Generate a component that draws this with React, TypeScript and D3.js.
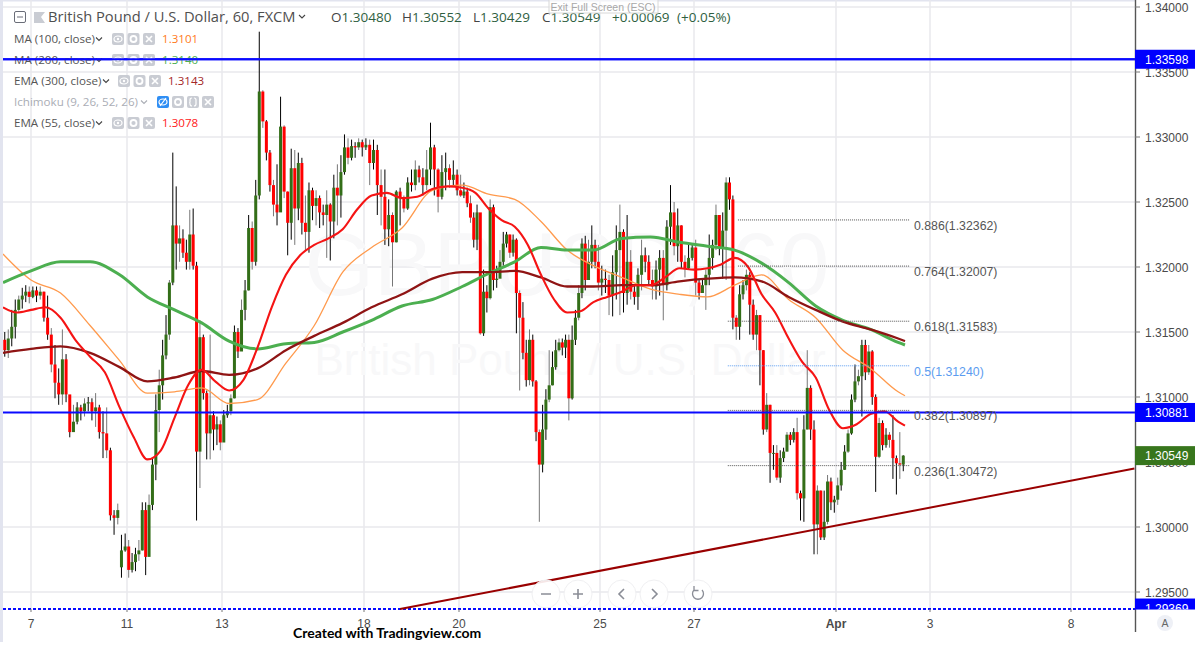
import React from "react";
import * as d3 from "d3";

type Bar = [number, number, number]; // close, high, low

// ---- hourly candles, one list per stretch between two date labels ----
const beforeMar7: Bar[] = [
  [1.3136,1.3150,1.3131],[1.3145,1.3152,1.3130],[1.3154,1.3167,1.3139],[1.3167,1.3175,1.3145],
  [1.3175,1.3178,1.3165],[1.3178,1.3184,1.3168],[1.3181,1.3186,1.3173],[1.3177,1.3185,1.3172],
];
const mar7to11: Bar[] = [
  [1.3182,1.3185,1.3176],[1.3178,1.3185,1.3173],[1.3181,1.3185,1.3175],[1.3161,1.3181,1.3158],
  [1.3148,1.3178,1.3144],[1.3125,1.3153,1.3119],[1.3111,1.3140,1.3099],[1.3102,1.3122,1.3094],
  [1.3129,1.3152,1.3094],[1.3102,1.3133,1.3096],[1.3073,1.3099,1.3069],[1.3081,1.3094,1.3076],
  [1.3092,1.3096,1.3079],[1.3089,1.3094,1.3082],[1.3095,1.3099,1.3085],[1.3096,1.3100,1.3089],
  [1.3089,1.3099,1.3082],[1.3092,1.3103,1.3077],[1.3073,1.3094,1.3068],[1.3072,1.3089,1.3053],
  [1.3059,1.3092,1.3053],[1.3009,1.3061,1.3005],[1.3007,1.3013,1.2994],[1.3013,1.3018,1.3002],
  [1.2982,1.2994,1.2961],[1.2985,1.2995,1.2981],
];
const mar11to13: Bar[] = [
  [1.2967,1.2990,1.2961],[1.2973,1.2980,1.2965],[1.2979,1.2984,1.2966],[1.2982,1.2990,1.2974],
  [1.3013,1.3019,1.2982],[1.2977,1.3019,1.2963],[1.3017,1.3025,1.2984],[1.3048,1.3053,1.3013],
  [1.3090,1.3102,1.3036],[1.3109,1.3121,1.3073],[1.3132,1.3144,1.3098],[1.3148,1.3163,1.3129],
  [1.3188,1.3190,1.3144],[1.3232,1.3288,1.3186],[1.3218,1.3262,1.3198],[1.3222,1.3232,1.3204],
  [1.3211,1.3229,1.3207],[1.3204,1.3221,1.3198],[1.3225,1.3244,1.3198],[1.3201,1.3245,1.3198],
  [1.3058,1.3204,1.3005],[1.3146,1.3159,1.3030],[1.3103,1.3148,1.3098],[1.3072,1.3105,1.3052],
  [1.3086,1.3148,1.3052],[1.3075,1.3089,1.3059],[1.3079,1.3085,1.3063],[1.3065,1.3082,1.3059],
];
const mar13to18: Bar[] = [
  [1.3086,1.3090,1.3070],[1.3089,1.3094,1.3084],[1.3099,1.3102,1.3086],[1.3150,1.3155,1.3099],
  [1.3135,1.3153,1.3130],[1.3167,1.3175,1.3144],[1.3182,1.3190,1.3159],[1.3230,1.3240,1.3182],
  [1.3204,1.3235,1.3198],[1.3255,1.3267,1.3201],[1.3335,1.3381,1.3252],[1.3312,1.3336,1.3307],
  [1.3288,1.3313,1.3282],[1.3263,1.3290,1.3258],[1.3248,1.3267,1.3239],[1.3242,1.3279,1.3232],
  [1.3308,1.3331,1.3255],[1.3258,1.3309,1.3253],[1.3234,1.3258,1.3209],[1.3276,1.3291,1.3221],
  [1.3245,1.3290,1.3217],[1.3280,1.3288,1.3236],[1.3234,1.3284,1.3225],[1.3227,1.3255,1.3213],
  [1.3259,1.3265,1.3211],[1.3247,1.3261,1.3236],[1.3253,1.3259,1.3232],[1.3242,1.3255,1.3230],
  [1.3240,1.3248,1.3232],[1.3248,1.3259,1.3207],[1.3235,1.3249,1.3205],[1.3261,1.3271,1.3222],
  [1.3255,1.3279,1.3232],[1.3273,1.3286,1.3238],[1.3292,1.3302,1.3271],[1.3284,1.3299,1.3279],
  [1.3293,1.3298,1.3282],[1.3292,1.3296,1.3284],[1.3296,1.3299,1.3290],[1.3292,1.3298,1.3285],
];
const mar18to20: Bar[] = [
  [1.3294,1.3299,1.3290],[1.3280,1.3298,1.3263],[1.3290,1.3298,1.3275],[1.3263,1.3294,1.3240],
  [1.3254,1.3275,1.3232],[1.3229,1.3275,1.3217],[1.3240,1.3252,1.3216],[1.3219,1.3242,1.3185],
  [1.3258,1.3259,1.3219],[1.3253,1.3261,1.3232],[1.3245,1.3255,1.3242],[1.3265,1.3269,1.3244],
  [1.3263,1.3275,1.3258],[1.3275,1.3282,1.3259],[1.3269,1.3278,1.3265],[1.3263,1.3276,1.3255],
  [1.3275,1.3290,1.3259],[1.3292,1.3311,1.3263],[1.3275,1.3294,1.3255],[1.3254,1.3276,1.3242],
  [1.3273,1.3286,1.3252],[1.3276,1.3288,1.3259],[1.3267,1.3279,1.3261],[1.3271,1.3282,1.3263],
  [1.3259,1.3275,1.3255],
];
const mar20to25: Bar[] = [
  [1.3255,1.3271,1.3254],[1.3258,1.3265,1.3253],[1.3249,1.3261,1.3246],[1.3238,1.3255,1.3234],
  [1.3221,1.3242,1.3215],[1.3242,1.3248,1.3213],[1.3149,1.3221,1.3148],[1.3181,1.3198,1.3147],
  [1.3176,1.3186,1.3165],[1.3246,1.3252,1.3175],[1.3190,1.3248,1.3182],[1.3191,1.3201,1.3184],
  [1.3204,1.3213,1.3192],[1.3218,1.3227,1.3201],[1.3225,1.3227,1.3215],[1.3211,1.3225,1.3207],
  [1.3221,1.3225,1.3208],[1.3180,1.3222,1.3149],[1.3161,1.3182,1.3105],[1.3134,1.3173,1.3129],
  [1.3113,1.3144,1.3108],[1.3144,1.3152,1.3109],[1.3112,1.3148,1.3108],[1.3073,1.3113,1.3066],
  [1.3048,1.3075,1.3004],[1.3075,1.3094,1.3042],[1.3098,1.3106,1.3067],[1.3109,1.3136,1.3096],
  [1.3123,1.3135,1.3109],[1.3136,1.3144,1.3121],[1.3142,1.3145,1.3135],[1.3138,1.3145,1.3132],
  [1.3144,1.3148,1.3130],[1.3099,1.3148,1.3082],[1.3144,1.3155,1.3098],[1.3161,1.3167,1.3140],
  [1.3180,1.3186,1.3159],[1.3218,1.3222,1.3176],[1.3190,1.3224,1.3182],[1.3204,1.3221,1.3198],
  [1.3217,1.3232,1.3199],[1.3204,1.3221,1.3199],[1.3188,1.3217,1.3182],
];
const mar25to27: Bar[] = [
  [1.3191,1.3201,1.3178],[1.3190,1.3198,1.3180],[1.3178,1.3194,1.3163],[1.3196,1.3209,1.3162],
  [1.3213,1.3232,1.3175],[1.3227,1.3248,1.3163],[1.3180,1.3229,1.3165],[1.3204,1.3240,1.3171],
  [1.3181,1.3213,1.3175],[1.3177,1.3186,1.3171],[1.3194,1.3199,1.3167],[1.3209,1.3221,1.3182],
  [1.3204,1.3215,1.3196],[1.3190,1.3209,1.3186],[1.3185,1.3198,1.3175],[1.3198,1.3205,1.3175],
  [1.3207,1.3213,1.3178],[1.3186,1.3213,1.3159],[1.3231,1.3236,1.3182],[1.3242,1.3263,1.3217],
  [1.3216,1.3250,1.3209],[1.3232,1.3245,1.3204],[1.3204,1.3232,1.3199],[1.3199,1.3209,1.3192],
  [1.3207,1.3219,1.3198],[1.3215,1.3217,1.3205],
];
const mar27toApr: Bar[] = [
  [1.3188,1.3221,1.3178],[1.3180,1.3190,1.3175],[1.3186,1.3191,1.3180],[1.3194,1.3198,1.3167],
  [1.3207,1.3225,1.3186],[1.3217,1.3221,1.3198],[1.3240,1.3248,1.3213],[1.3215,1.3240,1.3209],
  [1.3228,1.3242,1.3191],[1.3265,1.3269,1.3190],[1.3252,1.3269,1.3244],[1.3161,1.3255,1.3152],
  [1.3154,1.3163,1.3144],[1.3179,1.3186,1.3144],[1.3186,1.3190,1.3175],[1.3194,1.3198,1.3182],
  [1.3171,1.3196,1.3148],[1.3148,1.3175,1.3144],[1.3163,1.3167,1.3136],[1.3136,1.3163,1.3109],
  [1.3075,1.3136,1.3071],[1.3094,1.3103,1.3073],[1.3057,1.3094,1.3034],[1.3057,1.3063,1.3044],
  [1.3038,1.3063,1.3036],[1.3053,1.3059,1.3034],[1.3058,1.3061,1.3050],[1.3071,1.3073,1.3058],
  [1.3067,1.3073,1.3063],[1.3073,1.3076,1.3065],[1.3026,1.3084,1.3021],[1.3022,1.3028,1.3005],
  [1.3075,1.3086,1.3004],[1.3107,1.3136,1.3075],[1.3075,1.3109,1.3067],[1.3002,1.3082,1.2979],
  [1.3028,1.3032,1.2979],[1.2992,1.3028,1.2990],[1.3004,1.3028,1.2990],[1.3035,1.3040,1.3002],
  [1.3019,1.3038,1.3013],[1.3021,1.3024,1.3011],
];
const aprOn: Bar[] = [
  [1.3032,1.3038,1.3017],[1.3044,1.3050,1.3028],[1.3058,1.3063,1.3044],[1.3072,1.3075,1.3057],
  [1.3098,1.3102,1.3071],[1.3112,1.3125,1.3096],[1.3116,1.3121,1.3109],[1.3140,1.3144,1.3085],
  [1.3119,1.3144,1.3113],[1.3135,1.3140,1.3117],[1.3100,1.3136,1.3094],[1.3054,1.3102,1.3027],
  [1.3080,1.3084,1.3053],[1.3063,1.3082,1.3059],[1.3071,1.3076,1.3061],[1.3067,1.3073,1.3061],
  [1.3053,1.3086,1.3037],[1.3049,1.3055,1.3025],[1.3048,1.3073,1.3037],[1.30549,1.30552,1.30429],
];
const barSegments = [beforeMar7, mar7to11, mar11to13, mar13to18, mar18to20, mar20to25, mar25to27, mar27toApr, aprOn];
const gapOpens: Record<number, number> = { 0: 1.3144, 32: 1.2969 };

// ---- moving averages, read at regular bar steps ----
const ma100: number[] = [1.3210,1.3190,1.3180,1.3155,1.3128,1.3103,1.3104,1.3107,1.3095,1.3098,1.3126,1.3155,1.3196,1.3215,1.3230,1.3259,1.3263,1.3256,1.3252,1.3235,1.3213,1.3201,1.3192,1.3183,1.3179,1.3177,1.3186,1.3194,1.3175,1.3161,1.3136,1.3122,1.3104,1.3101];
const ma200: number[] = [1.3188,1.3197,1.3204,1.3204,1.3194,1.3177,1.3167,1.3157,1.3143,1.3137,1.3141,1.3142,1.3150,1.3159,1.3170,1.3175,1.3185,1.3195,1.3204,1.3215,1.3213,1.3213,1.3222,1.3223,1.3219,1.3216,1.3213,1.3203,1.3188,1.3170,1.3159,1.3152,1.3142,1.3140];
const ema300: number[] = [1.3134,1.3137,1.3139,1.3134,1.3123,1.3112,1.3115,1.3120,1.3117,1.3122,1.3136,1.3147,1.3157,1.3169,1.3179,1.3191,1.3196,1.3196,1.3197,1.3192,1.3185,1.3185,1.3186,1.3186,1.3189,1.3191,1.3192,1.3189,1.3177,1.3167,1.3158,1.3152,1.3145,1.3143];
const ema55: number[] = [1.3169,1.3165,1.3167,1.3169,1.3161,1.3144,1.3131,1.3119,1.3092,1.3069,1.3052,1.3059,1.3084,1.3109,1.3121,1.3112,1.3105,1.3113,1.3138,1.3169,1.3194,1.3209,1.3217,1.3222,1.3229,1.3244,1.3255,1.3257,1.3253,1.3254,1.3260,1.3262,1.3261,1.3257,1.3245,1.3236,1.3231,1.3217,1.3194,1.3175,1.3165,1.3166,1.3173,1.3177,1.3181,1.3186,1.3186,1.3192,1.3199,1.3198,1.3199,1.3202,1.3207,1.3200,1.3179,1.3165,1.3145,1.3127,1.3115,1.3090,1.3076,1.3079,1.3087,1.3089,1.3081,1.3078];

// ---- levels and labels ----
const priceTicks = [1.295, 1.30, 1.305, 1.31, 1.315, 1.32, 1.325, 1.33, 1.335, 1.34];
const dateLabels = ["7", "11", "13", "18", "20", "25", "27", "Apr", "3", "8"];
const futureBars = [7.2, 48.1];
const hLevels = [1.33598, 1.30881];
const lowLevel = 1.29369;
const fibRatios = ["0.886", "0.764", "0.618", "0.5", "0.382", "0.236"];
const fibPrices = [1.32362, 1.32007, 1.31583, 1.3124, 1.30897, 1.30472];
const fibStartBars = [209, 209, 206, 206, 206, 206];
const trendBars = [111.5, 324.5];
const trendPrices = [1.29369, 1.3045];
const lastPrice = 1.30549;

const legendRows = [
  { name: "MA (100, close)", value: "1.3101", color: "#ff7a1a" },
  { name: "MA (200, close)", value: "1.3140", color: "#4caf50" },
  { name: "EMA (300, close)", value: "1.3143", color: "#a52828" },
  { name: "Ichimoku (9, 26, 52, 26)", value: "", color: "" },
  { name: "EMA (55, close)", value: "1.3078", color: "#ff2020" },
];
const ohlcLabels = ["O", "H", "L", "C"];
const ohlcValues = ["1.30480", "1.30552", "1.30429", "1.30549"];

// ---- scales ----
const W = 1195, H = 649;
const plotR = 1135, plotB = 609, plotL = 3;
const y = d3.scaleLinear().domain([1.30, 1.34]).range([527, 7]);
const cum: number[] = [0];
barSegments.forEach((s) => cum.push(cum[cum.length - 1] + s.length));
const lastBar = cum[cum.length - 1];
const x = d3.scaleLinear()
  .domain([...cum, lastBar + futureBars[0], lastBar + futureBars[1]])
  .range([plotL, 31, 127, 222, 364, 459, 600, 694, 836, 905, 930, 1071]);
const tickBars = [cum[1], cum[2], cum[3], cum[4], cum[5], cum[6], cum[7], cum[8], lastBar + futureBars[0], lastBar + futureBars[1]];

const bars = barSegments.flat();
const candles = bars.map((b, i) => {
  const [c, h, l] = b;
  const o = gapOpens[i] ?? bars[i - 1][0];
  return { i, o, c, h, l };
});

const pathOf = (vals: number[], step: number) =>
  d3.line<number>()
    .x((_, i) => x(Math.min(i * step, lastBar)))
    .y((v) => y(v))
    .curve(d3.curveMonotoneX)(vals) as string;

const SANS = '"Liberation Sans", Arial, sans-serif';
const HEAD = '"Open Sans", "Liberation Sans", sans-serif';
const GRID = "#e9e9ec";
const BLUE = "#0a0aff";

function Icon({ x: ix, y: iy, kind, fill = "#c9ccd3" }: { x: number; y: number; kind: string; fill?: string }) {
  return (
    <g transform={`translate(${ix},${iy})`}>
      <rect x={0} y={-6} width={12} height={12} rx={2} fill={fill} />
      {kind === "eye" && <><ellipse cx={6} cy={0} rx={4} ry={3} fill="none" stroke="#fff" strokeWidth={1.2} /><circle cx={6} cy={0} r={1.2} fill="#fff" /></>}
      {kind === "gear" && <circle cx={6} cy={0} r={3} fill="none" stroke="#fff" strokeWidth={1.8} />}
      {kind === "x" && <path d="M3 -3L9 3M9 -3L3 3" stroke="#fff" strokeWidth={1.6} />}
      {kind === "brace" && <path d="M5 -4Q3 -4 3 -2V0Q3 1 2.5 0V0Q3 1 3 2Q3 4 5 4M7 -4Q9 -4 9 -2V2Q9 4 7 4" fill="none" stroke="#fff" strokeWidth={1.2} />}
      {kind === "hide" && <><ellipse cx={6} cy={0} rx={4} ry={3} fill="none" stroke="#fff" strokeWidth={1.2} /><path d="M3 4L9 -4" stroke="#fff" strokeWidth={1.2} /></>}
    </g>
  );
}
const chevron = (cx: number, cy: number, c = "#444") => (
  <path d={`M${cx - 3} ${cy - 1.5}L${cx} ${cy + 1.5}L${cx + 3} ${cy - 1.5}`} fill="none" stroke={c} strokeWidth={1.1} />
);

export default function App() {
  const legendY = [39, 60, 81, 102, 123];
  const legendText = [14, 14, 14, 14, 14];
  const chevX = [99, 99, 106, 144, 99];
  const iconX = [112, 112, 118, 157, 112];
  const valX = [162, 162, 168, 0, 162];
  const ohlcX = [331, 402, 473, 542];
  return (
    <svg width={W} height={H} viewBox={`0 0 ${W} ${H}`} style={{ position: "fixed", left: 0, top: 0, display: "block", background: "#fff" }}>
      <defs>
        <clipPath id="plot"><rect x={plotL} y={0} width={plotR - plotL} height={plotB + 1} /></clipPath>
      </defs>
      <rect x={0} y={0} width={W} height={H} fill="#fff" />
      {/* page edges */}
      <rect x={0} y={0} width={3} height={642} fill="#e2e4ef" />
      <rect x={0} y={0} width={plotR} height={1.5} fill="#e2e4ef" />

      {/* grid */}
      {priceTicks.map((p) => (
        <line key={p} x1={plotL} x2={plotR} y1={y(p)} y2={y(p)} stroke={GRID} strokeWidth={1.5} />
      ))}
      {tickBars.map((b, i) => (
        <line key={i} x1={x(b)} x2={x(b)} y1={0} y2={plotB} stroke={GRID} strokeWidth={1.5} />
      ))}

      {/* watermark */}
      <text x={567} y={295} textAnchor="middle" fontFamily={SANS} fontSize={89} fill="#f8f8f9">GBPUSD, 60</text>
      <text x={570} y={375} textAnchor="middle" fontFamily={SANS} fontSize={44} fill="#f8f8f9">British Pound / U.S. Dollar</text>

      <g clipPath="url(#plot)">
        {/* candles */}
        {candles.map((d) => {
          const cx = x(d.i + 0.5);
          const top = Math.min(y(d.o), y(d.c));
          const bot = Math.max(y(d.o), y(d.c));
          return (
            <g key={d.i}>
              <line x1={cx} x2={cx} y1={y(d.h)} y2={y(d.l)} stroke={d.i % 3 === 1 ? "#777" : "#000"} strokeWidth={1} />
              <rect x={cx - 1.5} y={top} width={3} height={Math.max(bot - top, 1)} fill={d.c >= d.o ? "#336e18" : "#ff0000"} />
            </g>
          );
        })}
        {/* averages */}
        <path d={pathOf(ma100, 8)} fill="none" stroke="#ff9a4d" strokeWidth={1.3} />
        <path d={pathOf(ma200, 8)} fill="none" stroke="#4caf50" strokeWidth={3} />
        <path d={pathOf(ema300, 8)} fill="none" stroke="#8f1414" strokeWidth={2.3} />
        <path d={pathOf(ema55, 4)} fill="none" stroke="#f51414" strokeWidth={2.1} />

        {/* fibonacci */}
        {fibPrices.map((p, i) => (
          <line key={p} x1={x(fibStartBars[i])} x2={910} y1={y(p)} y2={y(p)}
            stroke={fibRatios[i] === "0.5" ? "#5b9cf0" : "#555"} strokeWidth={1} strokeDasharray="1 1" />
        ))}

        {/* levels */}
        {hLevels.map((p) => (
          <line key={p} x1={plotL} x2={plotR} y1={y(p)} y2={y(p)} stroke={BLUE} strokeWidth={2} />
        ))}
        <line x1={plotL} x2={plotR} y1={y(lowLevel)} y2={y(lowLevel)} stroke={BLUE} strokeWidth={2} strokeDasharray="3 2" />
        <line x1={x(trendBars[0])} x2={x(trendBars[1])} y1={y(trendPrices[0])} y2={y(trendPrices[1])} stroke="#990000" strokeWidth={2} />
      </g>

      {fibPrices.map((p, i) => (
        <text key={p} x={914} y={y(p) + 10} fontFamily={SANS} fontSize={12.3}
          fill={fibRatios[i] === "0.5" ? "#5b9cf0" : "#555"}>{`${fibRatios[i]}(${p.toFixed(5)})`}</text>
      ))}

      {/* header */}
      <rect x={14.5} y={11.5} width={11} height={11} rx={1.5} fill="none" stroke="#6a6d78" strokeWidth={1} />
      <line x1={17} x2={23} y1={17} y2={17} stroke="#6a6d78" strokeWidth={1} />
      <path d="M34 12H45L41 17L45 23H34Z" fill="#c9ccd3" />
      <text x={48} y={22} fontFamily={HEAD} fontSize={14.7} fill="#4f4f4f">British Pound / U.S. Dollar, 60, FXCM</text>
      {chevron(302, 16.5)}
      <g fontFamily={HEAD} fontSize={13.5} fill="#2f5f3f">
        {ohlcLabels.map((l, i) => (
          <text key={l} x={ohlcX[i]} y={22}><tspan fill="#444">{l}</tspan>{ohlcValues[i]}</text>
        ))}
        <text x={612} y={22}>+0.00069</text>
        <text x={677} y={22}>(+0.05%)</text>
      </g>
      {/* fullscreen hint */}
      <rect x={549} y={-2} width={109} height={15} fill="#fff" fillOpacity={0.55} stroke="#d8d8d8" />
      <text x={603} y={11} textAnchor="middle" fontFamily={SANS} fontSize={10.5} fill="#a8a8a8">Exit Full Screen (ESC)</text>

      {/* legend */}
      {legendRows.map((r, i) => {
        const ichi = r.value === "";
        const kinds = ichi ? ["hide", "gear", "brace", "x"] : ["eye", "gear", "x"];
        return (
          <g key={r.name}>
            <text x={legendText[i]} y={legendY[i] + 4} fontFamily={HEAD} fontSize={11.6} fill={ichi ? "#aaadb5" : "#555"}>{r.name}</text>
            {chevron(chevX[i], legendY[i], ichi ? "#aaadb5" : "#444")}
            {kinds.map((k, j) => (
              <Icon key={k} x={iconX[i] + j * (ichi ? 15 : 15.5)} y={legendY[i]} kind={k} fill={k === "hide" ? "#2f8ef4" : "#c9ccd3"} />
            ))}
            {!ichi && <text x={valX[i]} y={legendY[i] + 4} fontFamily={HEAD} fontSize={11.6} fill={r.color}>{r.value}</text>}
          </g>
        );
      })}
      {/* the upper level passes over the second row */}
      <line x1={plotL} x2={plotR} y1={y(hLevels[0])} y2={y(hLevels[0])} stroke={BLUE} strokeWidth={2} />

      {/* zoom controls */}
      {[546, 578, 622, 654, 698].map((cx) => (
        <circle key={cx} cx={cx} cy={594} r={14} fill="#fff" fillOpacity={0.9} stroke="#f0f0f2" />
      ))}
      <g fill="none" stroke="#8a8d96" strokeWidth={1.6}>
        <path d="M541 594H551M573 594H583M578 589V599" />
        <path d="M624 589L619 594L624 599M652 589L657 594L652 599" />
        <path d="M702 590A5.5 5.5 0 1 1 694 590M694 586V590.5H698.5" strokeWidth={1.3} />
      </g>

      {/* axes */}
      <rect x={plotR} y={0} width={W - plotR} height={H} fill="#fff" />
      <line x1={plotR + 0.5} x2={plotR + 0.5} y1={0} y2={632} stroke="#555" strokeWidth={1.4} />
      {priceTicks.map((p) => (
        <g key={p}>
          <line x1={plotR} x2={plotR + 5} y1={y(p)} y2={y(p)} stroke="#777" />
          <text x={1145} y={y(p) + 4.5} fontFamily={SANS} fontSize={12} fill="#4a4a4a">{p.toFixed(5)}</text>
        </g>
      ))}
      {hLevels.map((p) => (
        <g key={p}>
          <rect x={plotR} y={y(p) - 9.5} width={W - plotR} height={19} fill="#0000ff" />
          <text x={1145} y={y(p) + 4.5} fontFamily={SANS} fontSize={12} fill="#fff">{p.toFixed(5)}</text>
        </g>
      ))}
      <rect x={plotR} y={y(lastPrice) - 9.5} width={W - plotR} height={19} fill="#38761d" />
      <text x={1145} y={y(lastPrice) + 4.5} fontFamily={SANS} fontSize={12} fill="#fff">{lastPrice.toFixed(5)}</text>
      <rect x={plotR} y={y(lowLevel) - 10.5} width={W - plotR} height={11} fill="#0000ff" />
      <svg x={plotR} y={y(lowLevel) - 10.5} width={W - plotR} height={11}>
        <text x={10} y={14.5} fontFamily={SANS} fontSize={12} fill="#fff">{lowLevel.toFixed(5)}</text>
      </svg>

      {tickBars.map((b, i) => (
        <g key={i}>
          <line x1={x(b)} x2={x(b)} y1={plotB} y2={plotB + 3} stroke="#777" />
          <text x={x(b)} y={628} textAnchor="middle" fontFamily={SANS} fontSize={12}
            fontWeight={dateLabels[i] === "Apr" ? 700 : 400} fill="#4a4a4a">{dateLabels[i]}</text>
        </g>
      ))}
      <circle cx={1165} cy={623} r={8} fill="#eef0f6" />
      <text x={1165} y={627} textAnchor="middle" fontFamily={SANS} fontSize={10.5} fill="#666">A</text>

      <text x={293} y={638} fontFamily='Lato, "Open Sans", sans-serif' fontWeight={700} fontSize={14} fill="#000">Created with Tradingview.com</text>
    </svg>
  );
}
